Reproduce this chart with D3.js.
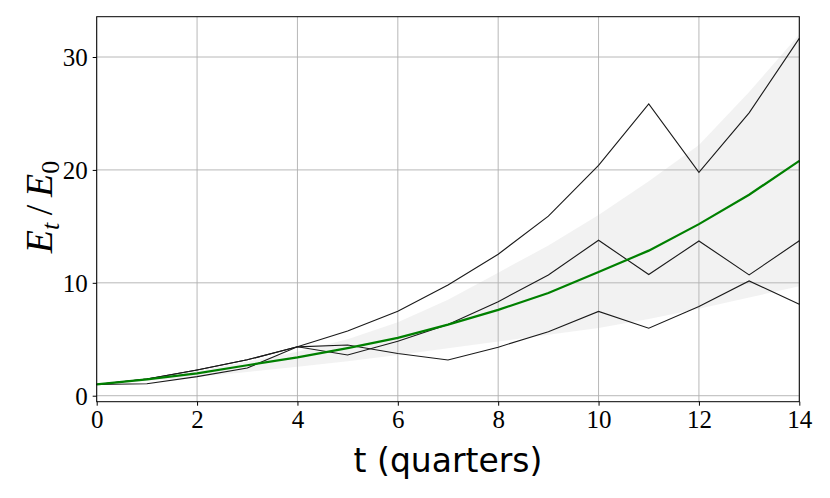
<!DOCTYPE html>
<html>
<head>
<meta charset="utf-8">
<script src="https://cdn.jsdelivr.net/npm/d3@7"></script>
<style>
  html, body { margin: 0; padding: 0; background: #fff; }
  svg { display: block; }
</style>
</head>
<body>
<svg id="chart" width="830" height="498"></svg>
<script>
const quarters = [0,1,2,3,4,5,6,7,8,9,10,11,12,13,14];
const meanPath = [1, 1.45, 1.98, 2.7, 3.4, 4.22, 5.12, 6.3, 7.6, 9.1, 10.95, 12.85, 15.2, 17.8, 20.8];
const bandUpper = [1, 1.55, 2.2, 3.0, 3.9, 5.0, 6.5, 8.5, 10.9, 13.3, 16.0, 19.0, 22.2, 26.9, 32.0];
const bandLower = [1, 1.3, 1.65, 2.1, 2.57, 3.05, 3.6, 4.2, 4.8, 5.4, 6.0, 6.8, 7.7, 8.7, 9.7];
const pathA = [1, 1.48, 2.28, 3.18, 4.33, 5.73, 7.48, 9.81, 12.53, 15.9, 20.4, 25.85, 19.78, 25.05, 31.65];
const pathB = [1, 1.48, 2.28, 3.18, 4.33, 4.49, 3.74, 3.16, 4.3, 5.67, 7.47, 5.98, 7.9, 10.17, 8.1];
const pathC = [1, 1.06, 1.69, 2.45, 4.33, 3.61, 4.82, 6.3, 8.33, 10.7, 13.77, 10.73, 13.71, 10.7, 13.72];
const xTicks = [0,2,4,6,8,10,12,14];
const yTicks = [0,10,20,30];

const svg = d3.select("#chart");
const L = 96.7, R = 799.3, T = 16.7, B = 401.7;
const x = d3.scaleLinear().domain([0,14]).range([L,R]);
const y = d3.scaleLinear().domain([-0.53, 33.57]).range([B,T]);

// grid
const g = svg.append("g");
g.selectAll("line.vg").data(xTicks).enter().append("line")
  .attr("x1", d=>x(d)).attr("x2", d=>x(d)).attr("y1", T).attr("y2", B)
  .attr("stroke", "#b0b0b0").attr("stroke-width", 0.9);
g.selectAll("line.hg").data(yTicks).enter().append("line")
  .attr("y1", d=>y(d)).attr("y2", d=>y(d)).attr("x1", L).attr("x2", R)
  .attr("stroke", "#b0b0b0").attr("stroke-width", 0.9);

// band
const area = d3.area().x((d,i)=>x(quarters[i])).y0((d,i)=>y(bandLower[i])).y1((d,i)=>y(bandUpper[i]));
svg.append("path").datum(quarters).attr("d", area)
  .attr("fill", "#bdbdbd").attr("fill-opacity", 0.2).attr("stroke", "none");

const line = d3.line().x((d,i)=>x(quarters[i])).y(d=>y(d));
[pathA, pathB, pathC].forEach(p => {
  svg.append("path").datum(p).attr("d", line)
    .attr("fill", "none").attr("stroke", "#1a1a1a").attr("stroke-width", 1.1)
    .attr("stroke-linejoin", "miter");
});
svg.append("path").datum(meanPath).attr("d", line)
  .attr("fill", "none").attr("stroke", "#008000").attr("stroke-width", 2.2);

// axes
const xAxis = d3.axisBottom(x).tickValues(xTicks).tickSize(4).tickPadding(4).tickFormat(d3.format("d"));
const yAxis = d3.axisLeft(y).tickValues(yTicks).tickSize(4).tickPadding(5).tickFormat(d3.format("d"));
const gx = svg.append("g").attr("transform", `translate(0,${B})`).call(xAxis);
const gy = svg.append("g").attr("transform", `translate(${L},0)`).call(yAxis);
[gx, gy].forEach(a => {
  a.select(".domain").remove();
  a.selectAll(".tick line").attr("stroke", "#000").attr("stroke-width", 1);
  a.selectAll(".tick text").attr("fill", "#000")
    .style("font-family", "'Liberation Serif', 'DejaVu Serif', serif").style("font-size", "25px");
});
gx.selectAll(".tick text").attr("dy", "0.75em");
gy.selectAll(".tick text").attr("dy", "0.34em");

// frame
svg.append("rect").attr("x", L).attr("y", T).attr("width", R-L).attr("height", B-T)
  .attr("fill", "none").attr("stroke", "#000").attr("stroke-width", 1);

// x label
svg.append("text").attr("x", (L+R)/2).attr("y", 472).attr("text-anchor", "middle")
  .style("font-family", "'DejaVu Sans', sans-serif").style("font-size", "33px").attr("fill", "#000")
  .text("t (quarters)");

// y label
const yl = svg.append("text").attr("transform", "translate(52,207) rotate(-90)")
  .attr("text-anchor", "middle").attr("fill", "#000")
  .style("font-family", "'Liberation Serif', 'DejaVu Serif', serif").style("font-size", "38px");
yl.append("tspan").style("font-style", "italic").text("E");
yl.append("tspan").style("font-style", "italic").style("font-size", "26px").attr("dy", "7").text("t");
yl.append("tspan").attr("dy", "-7").text("\u2009/\u2009");
yl.append("tspan").style("font-style", "italic").text("E");
yl.append("tspan").style("font-size", "26px").attr("dy", "7").text("0");
</script>
</body>
</html>
